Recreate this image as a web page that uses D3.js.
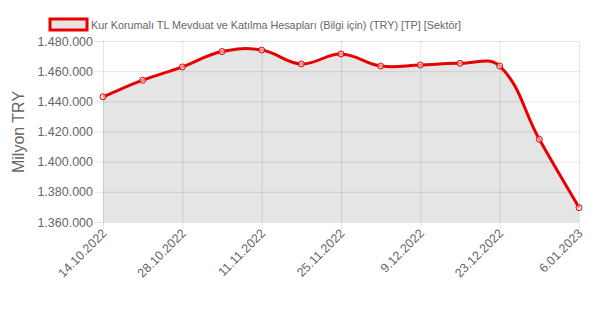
<!DOCTYPE html>
<html>
<head>
<meta charset="utf-8">
<script src="https://cdn.jsdelivr.net/npm/d3@7"></script>
<style>
  body { margin: 0; background: #fff; }
  svg { display: block; font-family: "Liberation Sans", Arial, sans-serif; }
</style>
</head>
<body>
<svg id="chart" width="597" height="329"></svg>
<script>
const dates = ["14.10.2022", "21.10.2022", "28.10.2022", "4.11.2022", "11.11.2022", "18.11.2022",
  "25.11.2022", "2.12.2022", "9.12.2022", "16.12.2022", "23.12.2022", "30.12.2022", "6.01.2023"];
const values = [1443000, 1454000, 1462800, 1473000, 1474000, 1464800,
  1471400, 1463400, 1464100, 1465200, 1463400, 1414800, 1369500];
const yTicks = [1360000, 1380000, 1400000, 1420000, 1440000, 1460000, 1480000];
const seriesName = "Kur Korumalı TL Mevduat ve Katılma Hesapları (Bilgi için) (TRY) [TP] [Sektör]";
const yTitle = "Milyon TRY";

const svg = d3.select("svg#chart");
const plotL = 103, plotR = 579, plotT = 41, plotB = 222;
const red = "rgb(232,0,0)";
const grid = "rgba(0,0,0,0.1)";

const x = d3.scalePoint().domain(dates).range([plotL, plotR]);
const y = d3.scaleLinear().domain([1360000, 1480000]).range([plotB, plotT]);

const fmt = v => d3.format(",")(v).replace(/,/g, ".");

// horizontal grid + y labels
const yAxis = d3.axisLeft(y).tickValues(yTicks).tickSize(0).tickFormat(fmt);
svg.append("g")
  .attr("transform", `translate(${plotL},0)`)
  .call(g => {
    g.call(yAxis);
    g.select(".domain").remove();
    g.selectAll(".tick line").attr("x1", -8).attr("x2", plotR - plotL).attr("stroke", grid);
    g.selectAll(".tick text").attr("x", -10).attr("fill", "#666").attr("font-size", 12.5)
      .attr("font-family", "Liberation Sans, Arial, sans-serif");
  });

// vertical grid + x labels (every other date)
const shown = dates.filter((d, i) => i % 2 === 0);
const xAxis = d3.axisBottom(x).tickValues(shown).tickSize(0);
svg.append("g")
  .attr("transform", `translate(0,${plotB})`)
  .call(g => {
    g.call(xAxis);
    g.select(".domain").remove();
    g.selectAll(".tick line").attr("y1", -(plotB - plotT)).attr("y2", 8).attr("stroke", grid);
    g.selectAll(".tick text")
      .attr("fill", "#666").attr("font-size", 12.5)
      .attr("font-family", "Liberation Sans, Arial, sans-serif")
      .attr("text-anchor", "end")
      .attr("y", 0).attr("dy", 0)
      .attr("transform", "translate(4,12) rotate(-45)");
  });

// spline like the original chart (tension 0.4, distance weighted)
const pts = values.map((v, i) => [x(dates[i]), y(v)]);
function splinePath(p, t, closeTo) {
  const ctx = d3.path();
  const cps = p.map((cur, i) => {
    const prev = p[i - 1] || cur, next = p[i + 1] || cur;
    const d01 = Math.hypot(cur[0] - prev[0], cur[1] - prev[1]);
    const d12 = Math.hypot(next[0] - cur[0], next[1] - cur[1]);
    const s01 = d01 / (d01 + d12) || 0, s12 = d12 / (d01 + d12) || 0;
    const fa = t * s01, fb = t * s12;
    const clampY = v => Math.max(plotT, Math.min(plotB, v));
    return {
      a: [cur[0] - fa * (next[0] - prev[0]), clampY(cur[1] - fa * (next[1] - prev[1]))],
      b: [cur[0] + fb * (next[0] - prev[0]), clampY(cur[1] + fb * (next[1] - prev[1]))]
    };
  });
  ctx.moveTo(p[0][0], p[0][1]);
  for (let i = 1; i < p.length; i++) {
    ctx.bezierCurveTo(cps[i - 1].b[0], cps[i - 1].b[1], cps[i].a[0], cps[i].a[1], p[i][0], p[i][1]);
  }
  if (closeTo != null) {
    ctx.lineTo(p[p.length - 1][0], closeTo);
    ctx.lineTo(p[0][0], closeTo);
    ctx.closePath();
  }
  return ctx.toString();
}

svg.append("path")
  .attr("fill", "rgba(0,0,0,0.1)")
  .attr("d", splinePath(pts, 0.4, plotB));

svg.append("path")
  .attr("fill", "none")
  .attr("stroke", red)
  .attr("stroke-width", 3)
  .attr("d", splinePath(pts, 0.4));

svg.selectAll("circle.pt")
  .data(values)
  .join("circle")
  .attr("class", "pt")
  .attr("cx", (d, i) => x(dates[i]))
  .attr("cy", d => y(d))
  .attr("r", 3)
  .attr("fill", "rgba(230,230,230,0.6)")
  .attr("stroke", red)
  .attr("stroke-width", 1);

// y title
svg.append("text")
  .attr("transform", `translate(24,132) rotate(-90)`)
  .attr("text-anchor", "middle")
  .attr("fill", "#666")
  .attr("font-size", 16)
  .text(yTitle);

// legend
svg.append("rect")
  .attr("x", 50).attr("y", 19).attr("width", 37).attr("height", 11)
  .attr("fill", "rgba(0,0,0,0.1)").attr("stroke", red).attr("stroke-width", 3);
svg.append("text")
  .attr("x", 91).attr("y", 28.5)
  .attr("fill", "#666")
  .attr("font-size", 10.8)
  .text(seriesName);
</script>
</body>
</html>
